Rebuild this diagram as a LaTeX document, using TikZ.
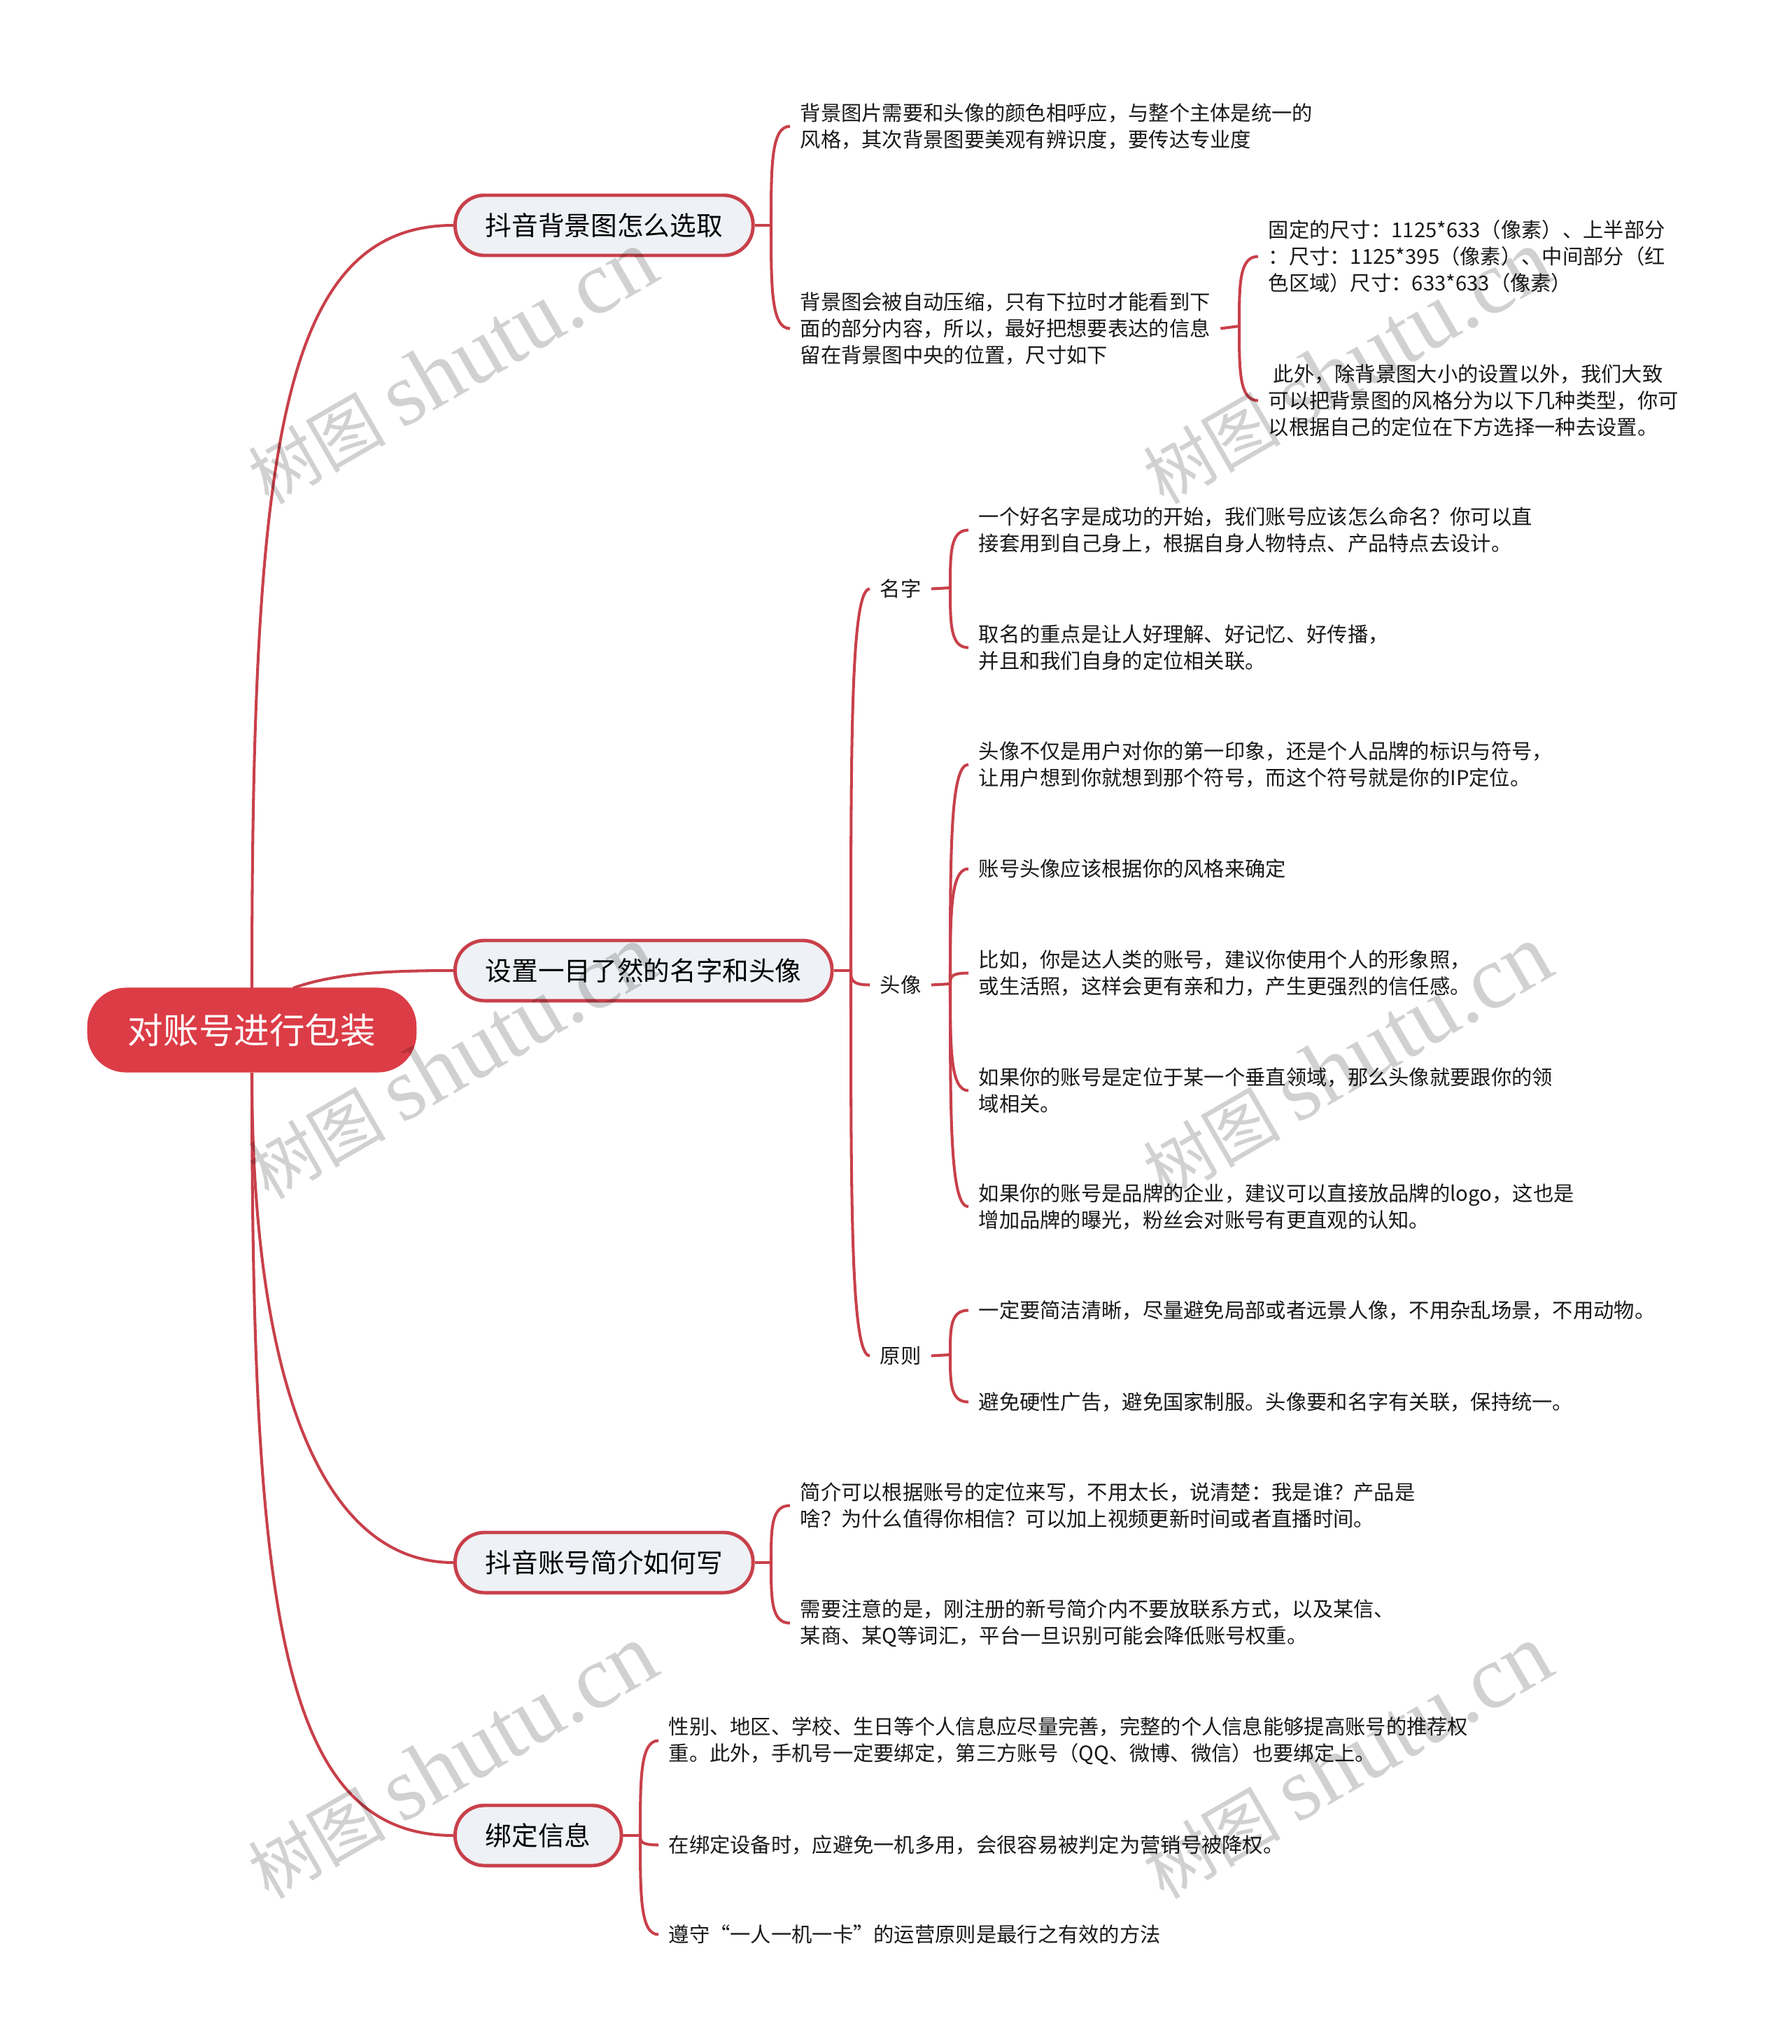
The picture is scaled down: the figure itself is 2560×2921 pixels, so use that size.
\documentclass[tikz,border=0pt]{standalone}
\usepackage{fontspec}
\usepackage{xcolor}
\usetikzlibrary{calc}
\setmainfont{Noto Sans CJK SC}
\newfontfamily\wmfont{Liberation Serif}
\definecolor{rootred}{HTML}{DC3C46}
\definecolor{linered}{HTML}{C8404A}
\definecolor{boxgray}{HTML}{EEF1F5}
\tikzset{
  rootbox/.style={fill=rootred,text=white,rounded corners=.55cm,minimum height=1.21cm,inner xsep=.58cm,font=\fontsize{14.4}{17}\selectfont},
  branchbox/.style={anchor=west,draw=linered,fill=boxgray,line width=1.4pt,rounded corners=.42cm,minimum height=.86cm,inner xsep=.435cm,font=\fontsize{10.7}{13}\selectfont},
  leaf/.style={anchor=west,yshift=-.015cm,inner xsep=.14cm,inner ysep=0pt,align=left,text=black!90,font=\fontsize{8.33}{10.9}\selectfont},
  line/.style={draw=linered,line width=1.15pt},
  bus/.style={line,to path={.. controls ($(\tikztostart)!0.6!(\tikztostart |- \tikztotarget)$) and (\tikztostart |- \tikztotarget) .. (\tikztotarget)}},
  wmark/.style={rotate=30,text=black,opacity=.18,font=\fontsize{28}{28}\selectfont}
}
\begin{document}
\begin{tikzpicture}[x=.01cm,y=-.01cm]
  \useasboundingbox (0,0) rectangle (2560,2921);
  \node[rootbox] (root) at (360,1472) {对账号进行包装};
  \node[branchbox] (bg) at (648,322) {抖音背景图怎么选取};
  \node[branchbox] (name) at (648,1387) {设置一目了然的名字和头像};
  \node[branchbox] (intro) at (648,2233) {抖音账号简介如何写};
  \node[branchbox] (bind) at (648,2623) {绑定信息};

  \coordinate (rt) at (360,1412);
  \coordinate (rb) at (360,1533);
  \coordinate (rn) at (419,1412);
  \draw[line] (rt) .. controls (360,645) and (400,322) .. (bg.west);
  \draw[line] (rn) .. controls (480,1390) and (560,1387) .. (name.west);
  \draw[line] (rb) .. controls (360,1950) and (450,2233) .. (intro.west);
  \draw[line] (rb) .. controls (360,2300) and (400,2623) .. (bind.west);

  \node[leaf] (bg1) at (1129,179) {背景图片需要和头像的颜色相呼应，与整个主体是统一的\\风格，其次背景图要美观有辨识度，要传达专业度};
  \node[leaf] (bg2) at (1129,468) {背景图会被自动压缩，只有下拉时才能看到下\\面的部分内容，所以，最好把想要表达的信息\\留在背景图中央的位置，尺寸如下};
  \node[leaf] (bg21) at (1798,365) {固定的尺寸：1125*633（像素）、上半部分\\：尺寸：1125*395（像素）、中间部分（红\\色区域）尺寸：633*633（像素）};
  \node[leaf] (bg22) at (1798,571) {\hspace*{2pt}此外，除背景图大小的设置以外，我们大致\\可以把背景图的风格分为以下几种类型，你可\\以根据自己的定位在下方选择一种去设置。};
  \coordinate (s1) at (1102,322);
  \coordinate (s2) at (1771,466);
  \draw[line] (bg.east) -- (s1);
  \draw[bus] (s1) to (bg1.west);
  \draw[bus] (s1) to (bg2.west);
  \draw[line] (bg2.east) -- (s2);
  \draw[bus] (s2) to (bg21.west);
  \draw[bus] (s2) to (bg22.west);

  \node[leaf] (n1) at (1243,840) {名字};
  \node[leaf] (n2) at (1243,1406) {头像};
  \node[leaf] (n3) at (1243,1936) {原则};
  \node[leaf] (n11) at (1384,756) {一个好名字是成功的开始，我们账号应该怎么命名？你可以直\\接套用到自己身上，根据自身人物特点、产品特点去设计。};
  \node[leaf] (n12) at (1384,924) {取名的重点是让人好理解、好记忆、好传播，\\并且和我们自身的定位相关联。};
  \node[leaf] (n21) at (1384,1091) {头像不仅是用户对你的第一印象，还是个人品牌的标识与符号，\\让用户想到你就想到那个符号，而这个符号就是你的IP定位。};
  \node[leaf] (n22) at (1384,1240) {账号头像应该根据你的风格来确定};
  \node[leaf] (n23) at (1384,1389) {比如，你是达人类的账号，建议你使用个人的形象照，\\或生活照，这样会更有亲和力，产生更强烈的信任感。};
  \node[leaf] (n24) at (1384,1557) {如果你的账号是定位于某一个垂直领域，那么头像就要跟你的领\\域相关。};
  \node[leaf] (n25) at (1384,1723) {如果你的账号是品牌的企业，建议可以直接放品牌的logo，这也是\\增加品牌的曝光，粉丝会对账号有更直观的认知。};
  \node[leaf] (n31) at (1384,1871) {一定要简洁清晰，尽量避免局部或者远景人像，不用杂乱场景，不用动物。};
  \node[leaf] (n32) at (1384,2002) {避免硬性广告，避免国家制服。头像要和名字有关联，保持统一。};
  \coordinate (s3) at (1216,1387);
  \coordinate (s4) at (1358,840);
  \coordinate (s5) at (1358,1406);
  \coordinate (s6) at (1358,1936);
  \draw[line] (name.east) -- (s3);
  \foreach \i in {n1,n2,n3} \draw[bus] (s3) to (\i.west);
  \draw[line] (n1.east) -- (s4);
  \draw[line] (n2.east) -- (s5);
  \draw[line] (n3.east) -- (s6);
  \foreach \i in {n11,n12} \draw[bus] (s4) to (\i.west);
  \foreach \i in {n21,n22,n23,n24,n25} \draw[bus] (s5) to (\i.west);
  \foreach \i in {n31,n32} \draw[bus] (s6) to (\i.west);

  \node[leaf] (in1) at (1129,2150) {简介可以根据账号的定位来写，不用太长，说清楚：我是谁？产品是\\啥？为什么值得你相信？可以加上视频更新时间或者直播时间。};
  \node[leaf] (in2) at (1129,2318) {需要注意的是，刚注册的新号简介内不要放联系方式，以及某信、\\某商、某Q等词汇，平台一旦识别可能会降低账号权重。};
  \coordinate (s7) at (1102,2233);
  \draw[line] (intro.east) -- (s7);
  \draw[bus] (s7) to (in1.west);
  \draw[bus] (s7) to (in2.west);

  \node[leaf] (b1) at (941,2486) {性别、地区、学校、生日等个人信息应尽量完善，完整的个人信息能够提高账号的推荐权\\重。此外，手机号一定要绑定，第三方账号（QQ、微博、微信）也要绑定上。};
  \node[leaf] (b2) at (941,2635) {在绑定设备时，应避免一机多用，会很容易被判定为营销号被降权。};
  \node[leaf] (b3) at (941,2763) {遵守“一人一机一卡”的运营原则是最行之有效的方法};
  \coordinate (s8) at (915,2623);
  \draw[line] (bind.east) -- (s8);
  \foreach \i in {b1,b2,b3} \draw[bus] (s8) to (\i.west);

  \foreach \x in {646,1925}
    \foreach \y in {525,1518,2518}
      \node[wmark] (w\x\y) at (\x,\y) {树图 {\wmfont\fontsize{36.5}{36.5}\selectfont shutu.cn}};
\end{tikzpicture}
\end{document}
